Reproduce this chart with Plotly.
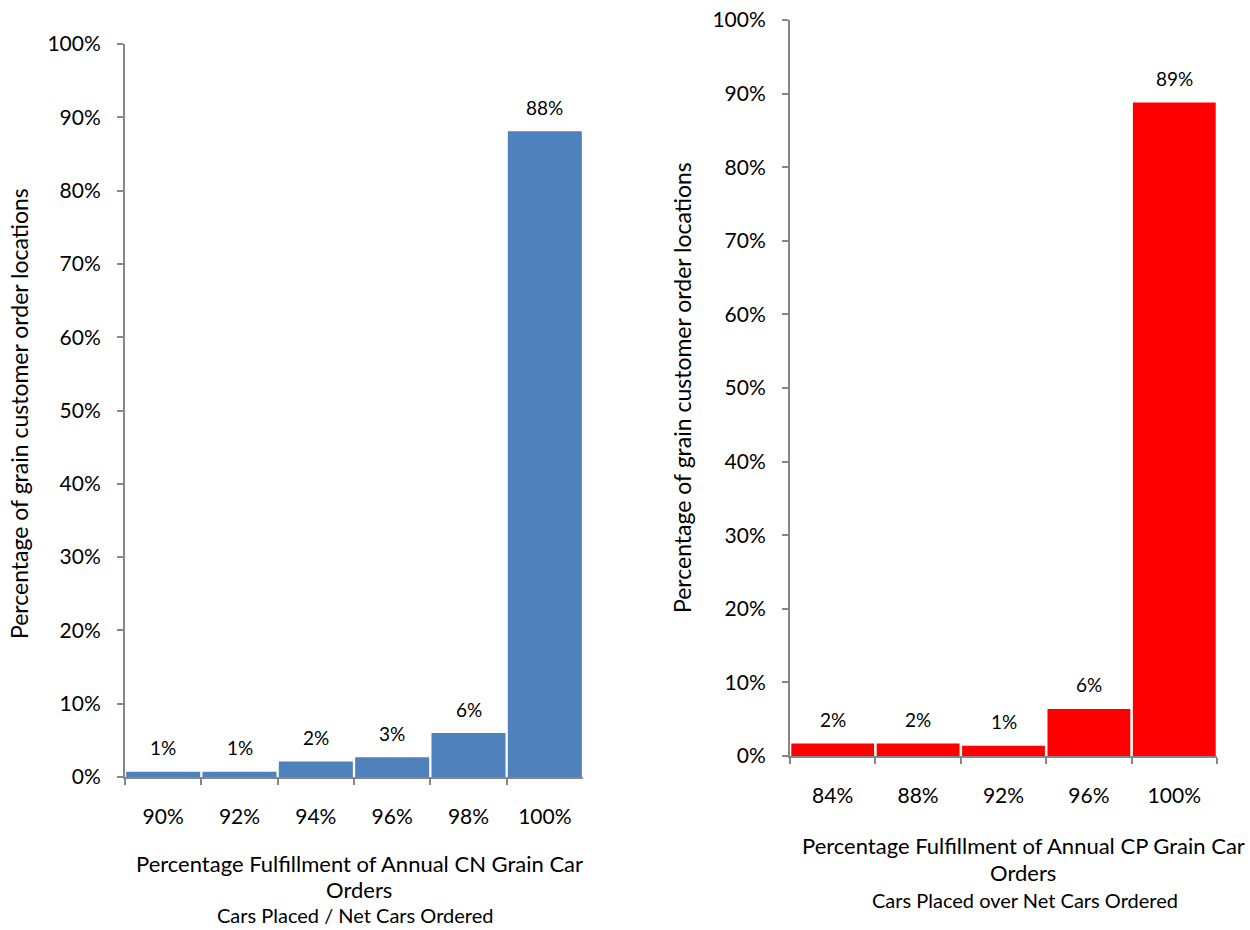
import plotly.graph_objects as go

# CN: share of grain customer order locations by fulfillment level
cn_categories = ["90%", "92%", "94%", "96%", "98%", "100%"]
cn_values = [0.007, 0.007, 0.021, 0.027, 0.060, 0.881]

# CP: share of grain customer order locations by fulfillment level
cp_categories = ["84%", "88%", "92%", "96%", "100%"]
cp_values = [0.017, 0.017, 0.014, 0.064, 0.888]

y_ticks = [i / 10 for i in range(11)]

W, H = 1250, 930
FONT = "Lato"
AXIS_GRAY = "#868686"


def px_x(a, b):
    return [a / W, b / W]


def px_y(top, bottom):
    return [(H - bottom) / H, (H - top) / H]


fig = go.Figure()

fig.add_trace(go.Bar(
    x=cn_categories, y=cn_values, marker=dict(color="#4F81BD", line=dict(width=0)),
    xaxis="x", yaxis="y", showlegend=False, hoverinfo="x+y",
))
fig.add_trace(go.Bar(
    x=cp_categories, y=cp_values, marker=dict(color="#FF0000", line=dict(width=0)),
    xaxis="x2", yaxis="y2", showlegend=False, hoverinfo="x+y",
))

annotations = []
for cats, vals, xr, yr in ((cn_categories, cn_values, "x", "y"),
                           (cp_categories, cp_values, "x2", "y2")):
    for c, v in zip(cats, vals):
        annotations.append(dict(
            x=c, y=v, xref=xr, yref=yr, text=f"{round(v * 100):.0f}%",
            showarrow=False, yshift=24, yanchor="middle", xanchor="center",
            font=dict(family=FONT, size=19, color="#000000"),
        ))


def paper_text(x, y, text, size, angle=0):
    return dict(x=x / W, y=(H - y) / H, xref="paper", yref="paper", text=text,
                textangle=angle, showarrow=False, xanchor="center", yanchor="middle",
                font=dict(family=FONT, size=size, color="#000"))


# axis titles
ytitle = "Percentage of grain customer order locations"
annotations += [
    paper_text(19, 414, ytitle, 23, -90),
    paper_text(682, 388, ytitle, 23, -90),
    paper_text(359, 863, "Percentage Fulfillment of Annual CN Grain Car", 22),
    paper_text(359, 889, "Orders", 22),
    paper_text(355, 915, "Cars Placed / Net Cars Ordered", 20),
    paper_text(1023, 845, "Percentage Fulfillment of Annual CP Grain Car", 22),
    paper_text(1023, 872, "Orders", 22),
    paper_text(1025, 900, "Cars Placed over Net Cars Ordered", 20),
]

xaxis_common = dict(
    type="category", showline=True, linecolor=AXIS_GRAY, linewidth=2,
    ticks="outside", tickson="boundaries", ticklen=6, tickwidth=2, tickcolor=AXIS_GRAY,
    showgrid=False, zeroline=False, ticklabelstandoff=20, automargin=False,
    tickfont=dict(family=FONT, size=21, color="#000"),
)
yaxis_common = dict(
    range=[0, 1], tickvals=y_ticks, tickformat=".0%", showline=True,
    linecolor=AXIS_GRAY, linewidth=2, ticks="outside", ticklen=6, tickwidth=2,
    tickcolor=AXIS_GRAY, showgrid=False, zeroline=False, ticklabelstandoff=12,
    automargin=False, tickfont=dict(family=FONT, size=21, color="#000"),
)

fig.update_layout(
    width=W, height=H, margin=dict(l=0, r=0, t=0, b=0, autoexpand=False),
    paper_bgcolor="white", plot_bgcolor="white", bargap=0.03,
    xaxis=dict(domain=px_x(125, 583), anchor="y", **xaxis_common),
    yaxis=dict(domain=px_y(44, 777), anchor="x", **yaxis_common),
    xaxis2=dict(domain=px_x(790, 1217), anchor="y2", **xaxis_common),
    yaxis2=dict(domain=px_y(20, 756), anchor="x2", **yaxis_common),
    annotations=annotations,
)

fig.write_html("out.html")
